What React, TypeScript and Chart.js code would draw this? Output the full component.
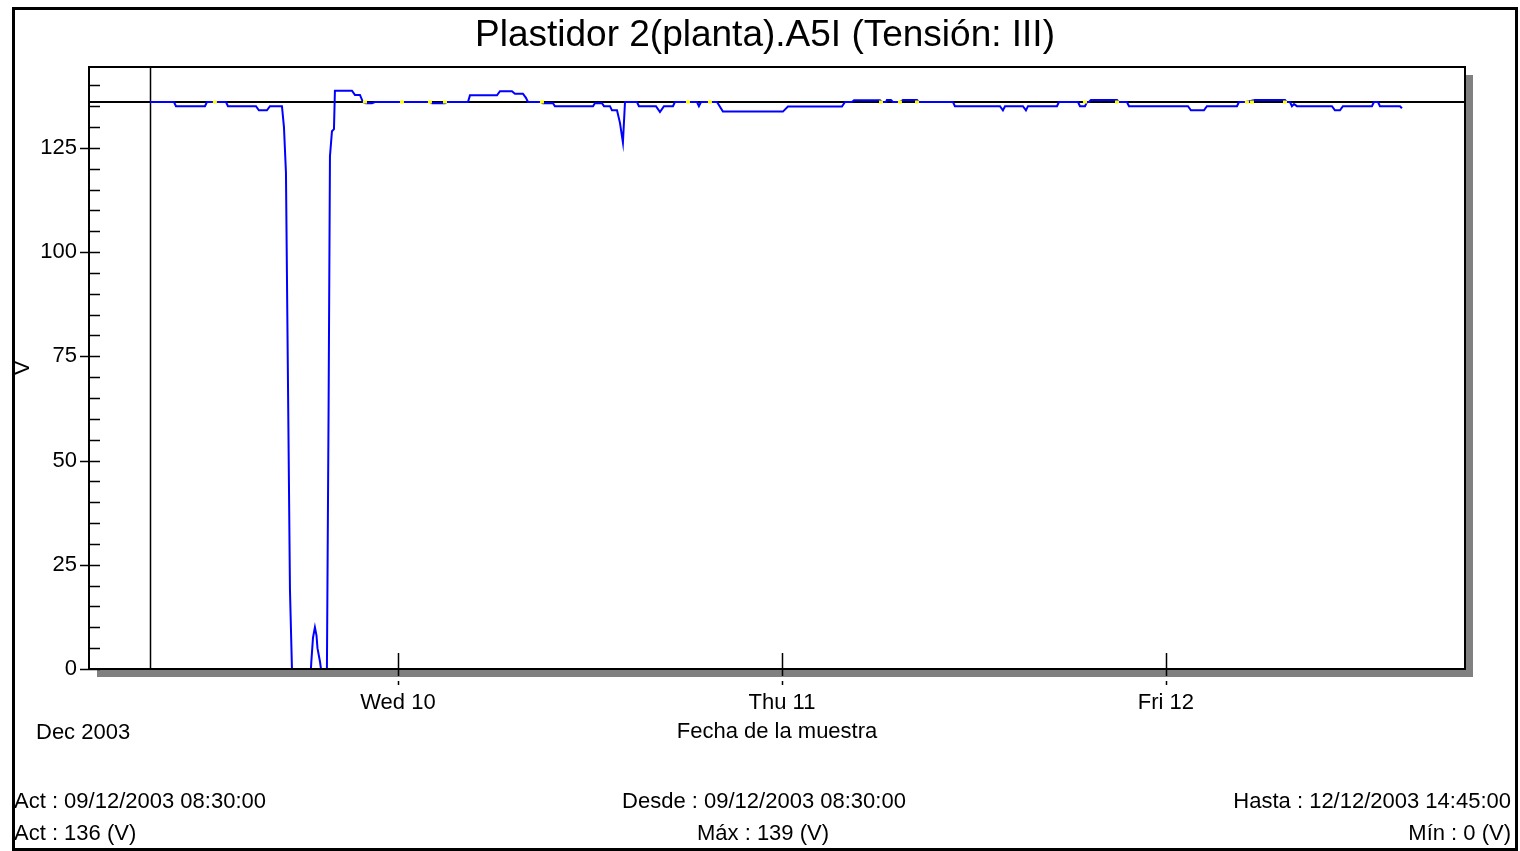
import React, { useEffect, useRef } from "react";
import { Chart, registerables } from "chart.js";

Chart.register(...registerables);

const FONT = "'Liberation Sans', Arial, sans-serif";

const TITLE = "Plastidor 2(planta).A5I (Tensión: III)";
const Y_TITLE = "V";
const X_TITLE = "Fecha de la muestra";
const MONTH_LABEL = "Dec 2003";
const UNIT = "(V)";

// x axis in hours since 09/12/2003 00:00
const X_MIN = 4.69;
const X_MAX = 90.69;
const dayTickHours = [24, 48, 72];
const dayTickLabels = ["Wed 10", "Thu 11", "Fri 12"];

const Y_MIN = 0;
const Y_MAX = 144.4;
const yMajorTicks = [0, 25, 50, 75, 100, 125];
const yMinorTicks = [5, 10, 15, 20, 30, 35, 40, 45, 55, 60, 65, 70, 80, 85, 90, 95, 105, 110, 115, 120, 130, 135, 140];

const startText = "09/12/2003 08:30:00";
const endText = "12/12/2003 14:45:00";
const actHour = 8.5;

const sampleHours = [
  8.5, 10.0, 10.125, 11.94, 12.06, 13.25, 13.375, 15.125, 15.31, 15.81, 16.0, 16.75, 16.875, 17.0, 17.25, 17.375,
  18.56, 18.59, 18.69, 18.81, 18.91, 18.97, 19.125, 19.19, 19.56, 19.66, 19.75, 19.875, 20.0, 20.06,
  21.125, 21.31, 21.625, 21.81, 22.0, 22.375, 22.56, 26.0, 26.125, 26.94, 27.06, 28.375, 28.5, 30.19, 30.375,
  31.125, 31.31, 31.81, 32.0, 32.125, 32.94, 33.06, 33.69, 33.81, 36.19, 36.31, 36.75, 36.875, 37.25, 37.375,
  37.69, 37.875, 38.06, 38.19, 38.94, 39.06, 40.125, 40.375, 40.625, 41.19, 41.31, 42.69, 42.81, 42.94, 43.375,
  43.94, 44.31, 48.06, 48.375, 51.75, 51.94, 52.375, 52.5, 54.125, 54.25, 54.5, 54.56, 54.81, 54.94, 55.375,
  55.56, 56.44, 56.56, 58.69, 58.81, 61.625, 61.81, 61.94, 63.06, 63.25, 63.375, 65.19, 65.31, 66.5, 66.625,
  66.94, 67.06, 67.19, 67.31, 68.94, 69.06, 69.56, 69.69, 73.375, 73.56, 74.375, 74.56, 76.44, 76.56, 77.0,
  77.56, 79.44, 79.56, 79.75, 79.875, 80.0, 80.19, 82.375, 82.56, 82.875, 83.06, 84.875, 85.0, 85.25, 85.375,
  86.625, 86.75,
];

const sampleVolts = [
  136, 136, 135, 135, 136, 136, 135, 135, 134, 134, 135, 135, 130, 119, 19, 0,
  0, 2, 7.5, 10, 8, 5, 1.8, 0, 0, 60, 123, 129, 129.5, 138.7,
  138.7, 137.7, 137.7, 136, 135.7, 135.7, 136, 136, 135.7, 135.7, 136, 136, 137.6, 137.6, 138.6,
  138.6, 138, 138, 137, 136, 136, 135.7, 135.7, 135, 135, 135.7, 135.7, 135, 135, 134,
  134, 131, 126.3, 136, 136, 135, 135, 133.6, 135, 135, 136, 136, 135, 136, 136,
  136, 133.7, 133.7, 134.9, 134.9, 136, 136, 136.4, 136.4, 136, 136, 136.5, 136.5, 136, 136,
  136.5, 136.5, 136, 136, 135, 135, 134, 135, 135, 134, 135, 135, 136, 136, 135,
  135, 136, 136, 136.5, 136.5, 136, 136, 135, 135, 134, 134, 135, 135, 136, 136,
  136.5, 136.5, 136, 136, 135, 135.5, 135, 135, 134, 134, 135, 135, 136, 136, 135,
  135, 134.5,
];

const markerHours = [12.56, 21.94, 24.25, 26.0, 26.94, 33.0, 42.125, 43.5, 54.19, 55.375, 56.44, 66.94, 68.94, 77.06, 77.375, 79.44];

const actValue = sampleVolts[0];
const maxValue = Math.round(Math.max(...sampleVolts));
const minValue = Math.round(Math.min(...sampleVolts));

const framePlugin = {
  id: "framePlugin",
  beforeDraw(chart: any) {
    const { ctx, chartArea: a } = chart;
    ctx.save();
    ctx.fillStyle = "#ffffff";
    ctx.fillRect(0, 0, chart.width, chart.height);
    ctx.fillStyle = "#808080";
    ctx.fillRect(a.left + 8, a.top + 8, a.right - a.left, a.bottom - a.top);
    ctx.fillStyle = "#ffffff";
    ctx.fillRect(a.left, a.top, a.right - a.left, a.bottom - a.top);
    ctx.restore();
  },
  beforeDatasetsDraw(chart: any) {
    const { ctx, chartArea: a, scales } = chart;
    const x = Math.round(scales.x.getPixelForValue(actHour)) + 0.5;
    const y = Math.round(scales.y.getPixelForValue(actValue));
    ctx.save();
    ctx.strokeStyle = "#000000";
    ctx.lineWidth = 1.5;
    ctx.beginPath();
    ctx.moveTo(x, a.top);
    ctx.lineTo(x, a.bottom);
    ctx.stroke();
    ctx.lineWidth = 2;
    ctx.beginPath();
    ctx.moveTo(a.left, y);
    ctx.lineTo(a.right, y);
    ctx.stroke();
    ctx.restore();
  },
  afterDraw(chart: any) {
    const { ctx, chartArea: a, scales } = chart;
    ctx.save();
    // plot frame
    ctx.strokeStyle = "#000000";
    ctx.lineWidth = 2;
    ctx.strokeRect(a.left, a.top, a.right - a.left, a.bottom - a.top);
    // y ticks (inside)
    ctx.lineWidth = 1.5;
    ctx.beginPath();
    yMajorTicks.forEach((v) => {
      const y = Math.round(scales.y.getPixelForValue(v)) + 0.5;
      ctx.moveTo(a.left - 9, y);
      ctx.lineTo(a.left + 11, y);
    });
    yMinorTicks.forEach((v) => {
      const y = Math.round(scales.y.getPixelForValue(v)) + 0.5;
      ctx.moveTo(a.left, y);
      ctx.lineTo(a.left + 11, y);
    });
    ctx.stroke();
    // x ticks
    ctx.lineWidth = 1.5;
    ctx.beginPath();
    dayTickHours.forEach((h) => {
      const x = Math.round(scales.x.getPixelForValue(h)) + 0.5;
      ctx.moveTo(x, a.bottom - 16);
      ctx.lineTo(x, a.bottom + 7);
      ctx.moveTo(x, a.bottom + 12);
      ctx.lineTo(x, a.bottom + 16);
    });
    ctx.stroke();
    // texts
    ctx.fillStyle = "#000000";
    ctx.font = `22px ${FONT}`;
    ctx.textBaseline = "middle";
    ctx.textAlign = "left";
    ctx.fillText(MONTH_LABEL, 36, 733);
    ctx.fillText(`Act : ${startText}`, 14, 802);
    ctx.fillText(`Act : ${actValue} ${UNIT}`, 14, 834);
    ctx.textAlign = "center";
    ctx.fillText(`Desde : ${startText}`, 764, 802);
    ctx.fillText(`Máx : ${maxValue} ${UNIT}`, 763, 834);
    ctx.textAlign = "right";
    ctx.fillText(`Hasta : ${endText}`, 1511, 802);
    ctx.fillText(`Mín : ${minValue} ${UNIT}`, 1511, 834);
    // outer border
    ctx.lineWidth = 3;
    ctx.strokeRect(13.5, 8.5, 1503, 841);
    ctx.restore();
  },
};

export default function App() {
  const ref = useRef<HTMLCanvasElement | null>(null);

  useEffect(() => {
    if (!ref.current) return;
    const tickFont = { family: FONT, size: 22, weight: "normal" as const };
    const chart = new Chart(ref.current, {
      type: "line",
      data: {
        datasets: [
          {
            label: "marks",
            data: markerHours.map((h) => ({ x: h, y: actValue })),
            showLine: false,
            pointStyle: "line",
            pointRadius: 2,
            pointBorderWidth: 3,
            pointBorderColor: "#ffff00",
            pointBackgroundColor: "#ffff00",
            xAxisID: "x",
            yAxisID: "y",
          },
          {
            label: "Tensión",
            data: sampleHours.map((h, i) => ({ x: h, y: sampleVolts[i] })),
            borderColor: "#0000ff",
            borderWidth: 2,
            pointRadius: 0,
            tension: 0,
            fill: false,
            xAxisID: "x",
            yAxisID: "y",
          },
        ],
      },
      options: {
        animation: false,
        responsive: false,
        devicePixelRatio: 1,
        layout: { padding: { top: 0, left: 10, right: 0, bottom: 105.8 } },
        plugins: {
          legend: { display: false },
          tooltip: { enabled: false },
          title: {
            display: true,
            text: TITLE,
            color: "#000000",
            font: { family: FONT, size: 37, weight: "normal" },
            padding: { top: 14, bottom: 8.6 },
          },
        },
        scales: {
          x: {
            type: "linear",
            position: "bottom",
            min: X_MIN,
            max: X_MAX,
            afterBuildTicks: (s: any) => {
              s.ticks = dayTickHours.map((v) => ({ value: v }));
            },
            afterFit: (s: any) => {
              s.height = 76.2;
            },
            ticks: {
              callback: (v: any) => dayTickLabels[dayTickHours.indexOf(Number(v))] ?? "",
              color: "#000000",
              font: tickFont,
              padding: 21,
              maxRotation: 0,
              autoSkip: false,
            },
            grid: { display: false, drawTicks: false },
            border: { display: false },
            title: { display: true, text: X_TITLE, color: "#000000", font: tickFont, padding: 0 },
          },
          y: {
            type: "linear",
            position: "left",
            min: Y_MIN,
            max: Y_MAX,
            afterBuildTicks: (s: any) => {
              s.ticks = yMajorTicks.map((v) => ({ value: v }));
            },
            afterFit: (s: any) => {
              s.width = 79;
            },
            ticks: { color: "#000000", font: tickFont, padding: 12 },
            grid: { display: false, drawTicks: false },
            border: { display: false },
            title: { display: true, text: Y_TITLE, color: "#000000", font: tickFont, padding: 0 },
          },
          y2: {
            type: "linear",
            position: "right",
            display: true,
            afterFit: (s: any) => {
              s.width = 55;
            },
            ticks: { display: false },
            grid: { display: false, drawTicks: false },
            border: { display: false },
          },
        },
      },
      plugins: [framePlugin],
    } as any);
    return () => chart.destroy();
  }, []);

  return (
    <div style={{ position: "fixed", left: 0, top: 0, width: 1520, height: 851, background: "#ffffff" }}>
      <canvas ref={ref} width={1520} height={851} />
    </div>
  );
}
